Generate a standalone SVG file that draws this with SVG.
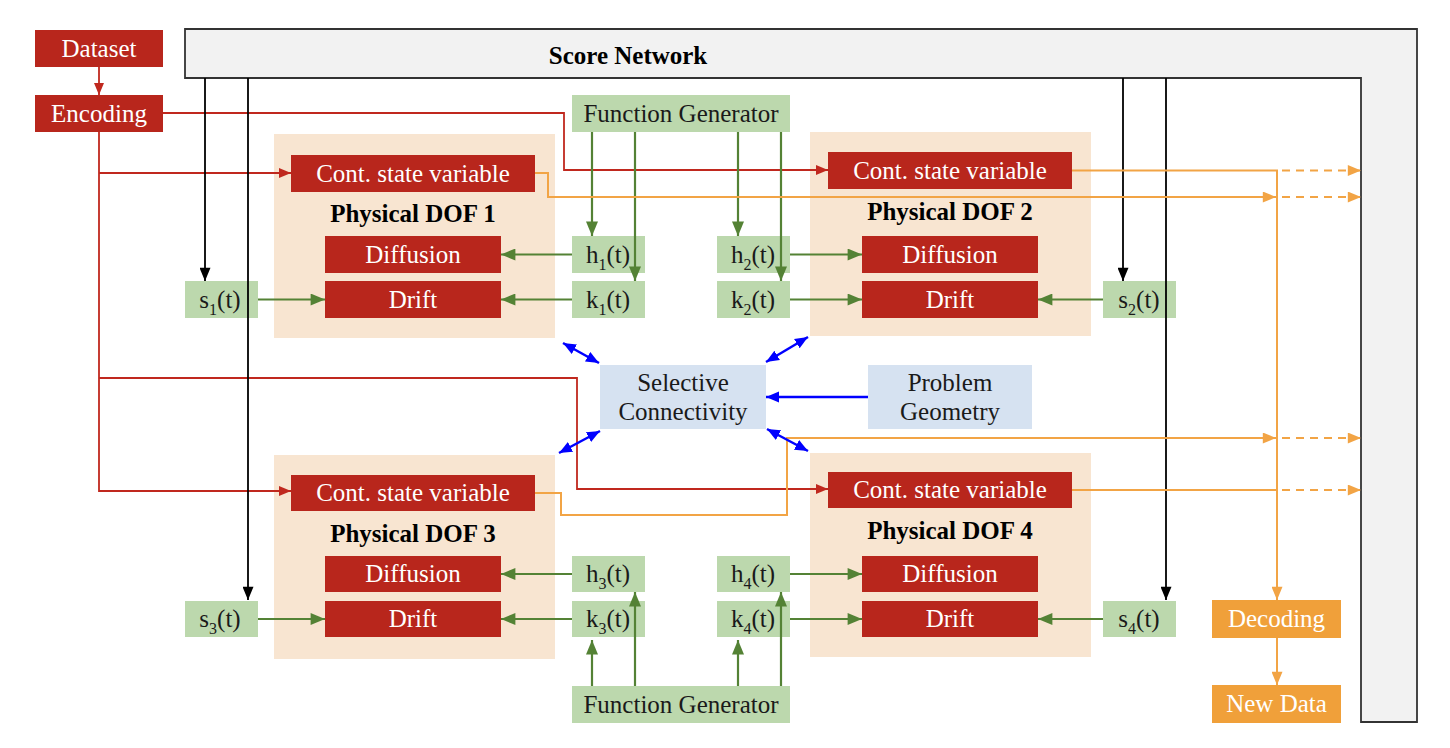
<svg xmlns="http://www.w3.org/2000/svg" width="1450" height="748" viewBox="0 0 1450 748">
<style>
text{font-family:"Liberation Serif","Times New Roman",serif;font-size:25px;text-anchor:middle}
.w{fill:#ffffff}.k{fill:#1a1a1a}.b{font-weight:bold;fill:#000}
.red{fill:#b8261c}.grn{fill:#bcd8ad}.pch{fill:#f8e5d1}.blu{fill:#d6e2f1}.org{fill:#f0a03a}
.sub{font-size:16px}
.lr{stroke:#c0281e;stroke-width:1.8;fill:none}
.lk{stroke:#000;stroke-width:1.8;fill:none}
.lg{stroke:#548235;stroke-width:2.2;fill:none}
.lo{stroke:#f2a445;stroke-width:2;fill:none}
.ld{stroke:#f2a445;stroke-width:2;fill:none;stroke-dasharray:8 6}
.lb{stroke:#0000ff;stroke-width:2.5;fill:none}
</style>
<defs>
<marker id="mr" viewBox="0 0 12 10" refX="12" refY="5" markerWidth="12" markerHeight="10" markerUnits="userSpaceOnUse" orient="auto"><path d="M0,0L12,5L0,10Z" fill="#c0281e"/></marker>
<marker id="mk" viewBox="0 0 12 10" refX="12" refY="5" markerWidth="14" markerHeight="11" markerUnits="userSpaceOnUse" orient="auto"><path d="M0,0L12,5L0,10Z" fill="#000"/></marker>
<marker id="mg" viewBox="0 0 12 10" refX="12" refY="5" markerWidth="15" markerHeight="12" markerUnits="userSpaceOnUse" orient="auto"><path d="M0,0L12,5L0,10Z" fill="#548235"/></marker>
<marker id="mo" viewBox="0 0 12 10" refX="12" refY="5" markerWidth="14" markerHeight="11" markerUnits="userSpaceOnUse" orient="auto"><path d="M0,0L12,5L0,10Z" fill="#f2a445"/></marker>
<marker id="mb" viewBox="0 0 12 10" refX="12" refY="5" markerWidth="13" markerHeight="12" markerUnits="userSpaceOnUse" orient="auto-start-reverse"><path d="M0,0L12,5L0,10Z" fill="#0000ff"/></marker>
</defs>

<g id="score-network">
<path d="M185,29H1417V722H1361V78H185Z" fill="#f2f2f2" stroke="#333" stroke-width="1.8"/>
<text x="628" y="64" class="b">Score Network</text>
</g>

<g id="dof1"><rect x="274" y="134" width="281" height="204" class="pch"/><text x="413" y="222" class="b">Physical DOF 1</text></g>
<g id="dof2"><rect x="810" y="132" width="281" height="204" class="pch"/><text x="950" y="220" class="b">Physical DOF 2</text></g>
<g id="dof3"><rect x="274" y="455" width="281" height="204" class="pch"/><text x="413" y="542" class="b">Physical DOF 3</text></g>
<g id="dof4"><rect x="810" y="453" width="281" height="204" class="pch"/><text x="950" y="539" class="b">Physical DOF 4</text></g>

<g id="dataset"><rect x="35" y="30" width="128" height="37" class="red"/><text x="99" y="57" class="w">Dataset</text></g>
<g id="encoding"><rect x="35" y="95" width="128" height="37" class="red"/><text x="99" y="122" class="w">Encoding</text></g>

<g id="fg-top"><rect x="572" y="95" width="218" height="37" class="grn"/><text x="681" y="122" class="k">Function Generator</text></g>
<g id="fg-bottom"><rect x="572" y="686" width="218" height="37" class="grn"/><text x="681" y="713" class="k">Function Generator</text></g>

<g id="cont1"><rect x="291" y="155" width="244" height="37" class="red"/><text x="413" y="182" class="w">Cont. state variable</text></g>
<g id="diff1"><rect x="325" y="236" width="176" height="37" class="red"/><text x="413" y="263" class="w">Diffusion</text></g>
<g id="drift1"><rect x="325" y="281" width="176" height="37" class="red"/><text x="413" y="308" class="w">Drift</text></g>
<g id="h1"><rect x="572" y="236" width="73" height="37" class="grn"/><text x="608" y="263" class="k">h<tspan class="sub" dy="7">1</tspan><tspan dy="-7">(t)</tspan></text></g>
<g id="k1"><rect x="572" y="281" width="73" height="37" class="grn"/><text x="608" y="308" class="k">k<tspan class="sub" dy="7">1</tspan><tspan dy="-7">(t)</tspan></text></g>
<g id="s1"><rect x="185" y="281" width="73" height="37" class="grn"/><text x="220" y="308" class="k">s<tspan class="sub" dy="7">1</tspan><tspan dy="-7">(t)</tspan></text></g>

<g id="cont2"><rect x="828" y="152" width="244" height="37" class="red"/><text x="950" y="179" class="w">Cont. state variable</text></g>
<g id="diff2"><rect x="862" y="236" width="176" height="37" class="red"/><text x="950" y="263" class="w">Diffusion</text></g>
<g id="drift2"><rect x="862" y="281" width="176" height="37" class="red"/><text x="950" y="308" class="w">Drift</text></g>
<g id="h2"><rect x="717" y="236" width="73" height="37" class="grn"/><text x="753" y="263" class="k">h<tspan class="sub" dy="7">2</tspan><tspan dy="-7">(t)</tspan></text></g>
<g id="k2"><rect x="717" y="281" width="73" height="37" class="grn"/><text x="753" y="308" class="k">k<tspan class="sub" dy="7">2</tspan><tspan dy="-7">(t)</tspan></text></g>
<g id="s2"><rect x="1103" y="281" width="73" height="37" class="grn"/><text x="1139" y="308" class="k">s<tspan class="sub" dy="7">2</tspan><tspan dy="-7">(t)</tspan></text></g>

<g id="selective"><rect x="600" y="365" width="166" height="64" class="blu"/><text x="683" y="391" class="k">Selective</text><text x="683" y="420" class="k">Connectivity</text></g>
<g id="geometry"><rect x="868" y="365" width="164" height="64" class="blu"/><text x="950" y="391" class="k">Problem</text><text x="950" y="420" class="k">Geometry</text></g>

<g id="cont3"><rect x="291" y="475" width="244" height="36" class="red"/><text x="413" y="501" class="w">Cont. state variable</text></g>
<g id="diff3"><rect x="325" y="556" width="176" height="36" class="red"/><text x="413" y="582" class="w">Diffusion</text></g>
<g id="drift3"><rect x="325" y="601" width="176" height="36" class="red"/><text x="413" y="627" class="w">Drift</text></g>
<g id="h3"><rect x="572" y="556" width="73" height="36" class="grn"/><text x="608" y="582" class="k">h<tspan class="sub" dy="7">3</tspan><tspan dy="-7">(t)</tspan></text></g>
<g id="k3"><rect x="572" y="601" width="73" height="36" class="grn"/><text x="608" y="627" class="k">k<tspan class="sub" dy="7">3</tspan><tspan dy="-7">(t)</tspan></text></g>
<g id="s3"><rect x="185" y="601" width="73" height="36" class="grn"/><text x="220" y="627" class="k">s<tspan class="sub" dy="7">3</tspan><tspan dy="-7">(t)</tspan></text></g>

<g id="cont4"><rect x="828" y="472" width="244" height="36" class="red"/><text x="950" y="498" class="w">Cont. state variable</text></g>
<g id="diff4"><rect x="862" y="556" width="176" height="36" class="red"/><text x="950" y="582" class="w">Diffusion</text></g>
<g id="drift4"><rect x="862" y="601" width="176" height="36" class="red"/><text x="950" y="627" class="w">Drift</text></g>
<g id="h4"><rect x="717" y="556" width="73" height="36" class="grn"/><text x="753" y="582" class="k">h<tspan class="sub" dy="7">4</tspan><tspan dy="-7">(t)</tspan></text></g>
<g id="k4"><rect x="717" y="601" width="73" height="36" class="grn"/><text x="753" y="627" class="k">k<tspan class="sub" dy="7">4</tspan><tspan dy="-7">(t)</tspan></text></g>
<g id="s4"><rect x="1103" y="601" width="73" height="36" class="grn"/><text x="1139" y="627" class="k">s<tspan class="sub" dy="7">4</tspan><tspan dy="-7">(t)</tspan></text></g>

<g id="decoding"><rect x="1212" y="600" width="129" height="38" class="org"/><text x="1276.5" y="627" class="w">Decoding</text></g>
<g id="new-data"><rect x="1212" y="685" width="129" height="38" class="org"/><text x="1276.5" y="712" class="w">New Data</text></g>

<g id="connectors">
<path class="lr" d="M99,67V95" marker-end="url(#mr)"/>
<path class="lr" d="M163,113H564V170H828" marker-end="url(#mr)"/>
<path class="lr" d="M99,132V491H291" marker-end="url(#mr)"/>
<path class="lr" d="M99,173H291" marker-end="url(#mr)"/>
<path class="lr" d="M99,378H577V489H828" marker-end="url(#mr)"/>

<path class="lk" d="M205,78V281" marker-end="url(#mk)"/>
<path class="lk" d="M248,78V600" marker-end="url(#mk)"/>
<path class="lk" d="M1123,78V281" marker-end="url(#mk)"/>
<path class="lk" d="M1166,78V600" marker-end="url(#mk)"/>

<path class="lg" d="M592,132V236" marker-end="url(#mg)"/>
<path class="lg" d="M635,132V281" marker-end="url(#mg)"/>
<path class="lg" d="M738,132V236" marker-end="url(#mg)"/>
<path class="lg" d="M781,132V281" marker-end="url(#mg)"/>
<path class="lg" d="M572,254.5H501" marker-end="url(#mg)"/>
<path class="lg" d="M572,299.5H501" marker-end="url(#mg)"/>
<path class="lg" d="M258,299.5H325" marker-end="url(#mg)"/>
<path class="lg" d="M790,254.5H862" marker-end="url(#mg)"/>
<path class="lg" d="M790,299.5H862" marker-end="url(#mg)"/>
<path class="lg" d="M1103,299.5H1038" marker-end="url(#mg)"/>
<path class="lg" d="M572,574H501" marker-end="url(#mg)"/>
<path class="lg" d="M572,619H501" marker-end="url(#mg)"/>
<path class="lg" d="M258,619H325" marker-end="url(#mg)"/>
<path class="lg" d="M790,574H862" marker-end="url(#mg)"/>
<path class="lg" d="M790,619H862" marker-end="url(#mg)"/>
<path class="lg" d="M1103,619H1038" marker-end="url(#mg)"/>
<path class="lg" d="M592,686V640" marker-end="url(#mg)"/>
<path class="lg" d="M635,686V592" marker-end="url(#mg)"/>
<path class="lg" d="M738,686V640" marker-end="url(#mg)"/>
<path class="lg" d="M781,686V592" marker-end="url(#mg)"/>

<path class="lo" d="M1072,170.5H1278"/>
<path class="ld" d="M1282,170.5H1361" marker-end="url(#mo)"/>
<path class="lo" d="M535,173H548V197H1276" marker-end="url(#mo)"/>
<path class="ld" d="M1282,197H1361" marker-end="url(#mo)"/>
<path class="lo" d="M535,493H561V515H787V438H1276" marker-end="url(#mo)"/>
<path class="ld" d="M1282,438H1361" marker-end="url(#mo)"/>
<path class="lo" d="M1072,490H1278"/>
<path class="ld" d="M1282,490H1361" marker-end="url(#mo)"/>
<path class="lo" d="M1277,170.5V600" marker-end="url(#mo)"/>
<path class="lo" d="M1277,638V685" marker-end="url(#mo)"/>

<path class="lb" d="M563,343L599,363" marker-start="url(#mb)" marker-end="url(#mb)"/>
<path class="lb" d="M766,362L808,337" marker-start="url(#mb)" marker-end="url(#mb)"/>
<path class="lb" d="M559,453L600,431" marker-start="url(#mb)" marker-end="url(#mb)"/>
<path class="lb" d="M767,429L808,451" marker-start="url(#mb)" marker-end="url(#mb)"/>
<path class="lb" d="M868,397H766" marker-end="url(#mb)"/>
</g>
</svg>
